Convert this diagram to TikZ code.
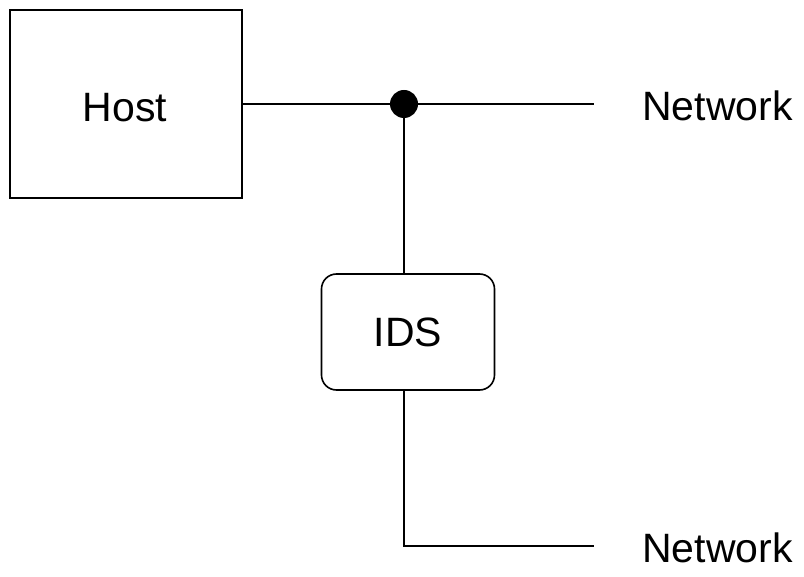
\documentclass[tikz,border=0pt]{standalone}
\usepackage{fontspec}
\setmainfont{Liberation Sans}
\begin{document}
\begin{tikzpicture}[x=1pt,y=-1pt,
  wire/.style={line width=1.6pt},
  label/.style={font=\fontsize{41}{49}\selectfont, inner sep=0pt},
  boxstyle/.style={draw, line width=1.6pt, inner sep=0pt, font=\fontsize{41}{49}\selectfont}]
  \useasboundingbox (0,0) rectangle (804,577);
  % host box, its label sits a little below centre
  \node[boxstyle, minimum width=232pt, minimum height=188pt] (host) at (126,104) {};
  \node[label] (hostlbl) at (125,108) {Host};
  % IDS box
  \node[boxstyle, rounded corners=15pt, minimum width=173pt, minimum height=116pt] (ids) at (408,332) {IDS};
  % junction dot and line ends
  \node[circle, fill=black, inner sep=0pt, minimum size=28pt] (dot) at (404,104) {};
  \coordinate (topend) at (594,104);
  \coordinate (corner) at (404,546);
  \coordinate (botend) at (594,546);
  % network labels
  \node[label, anchor=west] (net1) at (642,106) {Network};
  \node[label, anchor=west] (net2) at (642,548) {Network};
  % wires
  \draw[wire] (host.east) -- (dot.center) -- (topend);
  \draw[wire] (dot.center) -- (dot.center |- ids.north);
  \draw[wire] (dot.center |- ids.south) -- (corner) -- (botend);
\end{tikzpicture}
\end{document}
